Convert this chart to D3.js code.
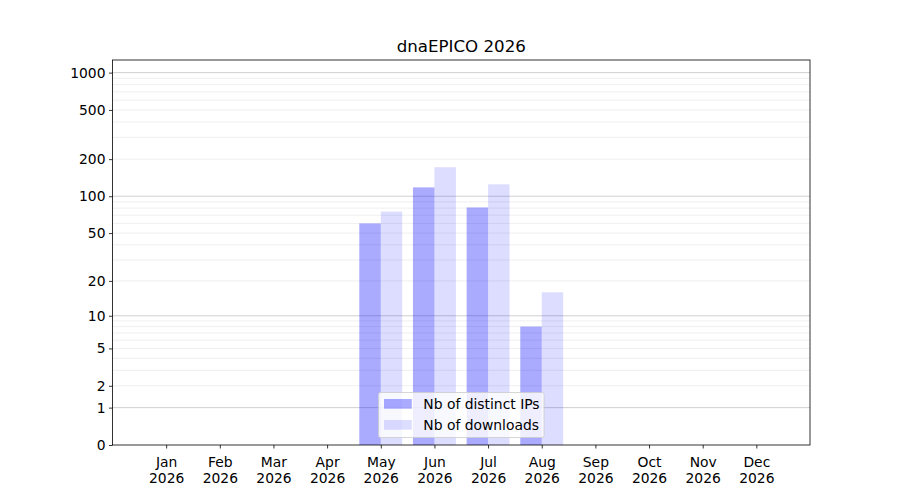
<!DOCTYPE html>
<html><head><meta charset="utf-8">
<script src="https://cdn.jsdelivr.net/npm/d3@7"></script>
<style>body{margin:0;background:#fff}svg{display:block;font-family:"DejaVu Sans",sans-serif}</style>
</head><body><svg id="c" width="900" height="500"></svg>
<script>
const months = ["Jan","Feb","Mar","Apr","May","Jun","Jul","Aug","Sep","Oct","Nov","Dec"];
const yearLabel = "2026";
const ips = [0,0,0,0,60,118,81,8,0,0,0,0];
const downloads = [0,0,0,0,75,172,125,16,0,0,0,0];
const yTicks = [0,1,2,5,10,20,50,100,200,500,1000];
const majorGrid = [1,10,100,1000];
const minorGrid = [2,3,4,5,6,7,8,9,20,30,40,50,60,70,80,90,200,300,400,500,600,700,800,900];
const title = "dnaEPICO 2026";
const seriesNames = ["Nb of distinct IPs","Nb of downloads"];

const svg = d3.select("#c");
const L=112.5,R=810,T=60,B=445;
const x = d3.scaleLinear().domain([-1,12]).range([L,R]);
const y = d3.scaleSymlog().constant(1).domain([0,1264]).range([B,T]);
const w = 0.4;
const fs = "13.89px";

// grid
svg.append("g").selectAll("line").data(minorGrid).join("line")
  .attr("x1",L).attr("x2",R).attr("y1",d=>y(d)).attr("y2",d=>y(d))
  .attr("stroke","#ebebeb").attr("stroke-width",0.8);
svg.append("g").selectAll("line").data(majorGrid).join("line")
  .attr("x1",L).attr("x2",R).attr("y1",d=>y(d)).attr("y2",d=>y(d))
  .attr("stroke","#c4c4c4").attr("stroke-width",0.8);

// bars
svg.append("g").selectAll("rect").data(ips).join("rect")
  .attr("x",(d,i)=>x(i-w)).attr("width",x(w)-x(0))
  .attr("y",d=>y(d)).attr("height",d=>B-y(d))
  .attr("fill","#0000ff").attr("fill-opacity",0.333);
svg.append("g").selectAll("rect").data(downloads).join("rect")
  .attr("x",(d,i)=>x(i)).attr("width",x(w)-x(0))
  .attr("y",d=>y(d)).attr("height",d=>B-y(d))
  .attr("fill","#0000ff").attr("fill-opacity",0.133);

// axes
const ya = svg.append("g").attr("transform",`translate(${L},0)`)
  .call(d3.axisLeft(y).tickValues(yTicks).tickFormat(d3.format("d")).tickSize(3.5).tickPadding(3.5));
ya.select(".domain").remove();
const xa = svg.append("g").attr("transform",`translate(0,${B})`)
  .call(d3.axisBottom(x).tickValues(d3.range(12)).tickFormat(i=>months[i]).tickSize(3.5).tickPadding(3.5));
xa.select(".domain").remove();
[ya,xa].forEach(a=>{a.selectAll("text").attr("font-size",fs).attr("fill","#000").attr("font-family","DejaVu Sans");
  a.selectAll("line").attr("stroke","#000").attr("stroke-width",0.8);});
xa.selectAll(".tick text").each(function(i){
  const t=d3.select(this); t.text(null).attr("dy",null).attr("y",null);
  t.append("tspan").attr("x",0).attr("y",21.5).text(months[i]);
  t.append("tspan").attr("x",0).attr("y",37.5).text(yearLabel);
});
svg.append("rect").attr("x",L).attr("y",T).attr("width",R-L).attr("height",B-T)
  .attr("fill","none").attr("stroke","#000").attr("stroke-width",0.8);

svg.append("text").attr("x",(L+R)/2).attr("y",52).attr("text-anchor","middle")
  .attr("font-size","16.67px").text(title);

// legend
const lg = svg.append("g");
lg.append("rect").attr("x",378.5).attr("y",392.5).attr("width",165.5).attr("height",45).attr("rx",2)
  .attr("fill","#fff").attr("fill-opacity",0.8).attr("stroke","#cccccc").attr("stroke-width",0.8);
const op=[0.333,0.133];
seriesNames.forEach((n,i)=>{
  const cy = 404 + i*21;
  lg.append("rect").attr("x",384).attr("y",cy-5).attr("width",27.8).attr("height",9.7)
    .attr("fill","#0000ff").attr("fill-opacity",op[i]);
  lg.append("text").attr("x",423.3).attr("y",cy+5).attr("font-size",fs).text(n);
});
</script></body></html>
